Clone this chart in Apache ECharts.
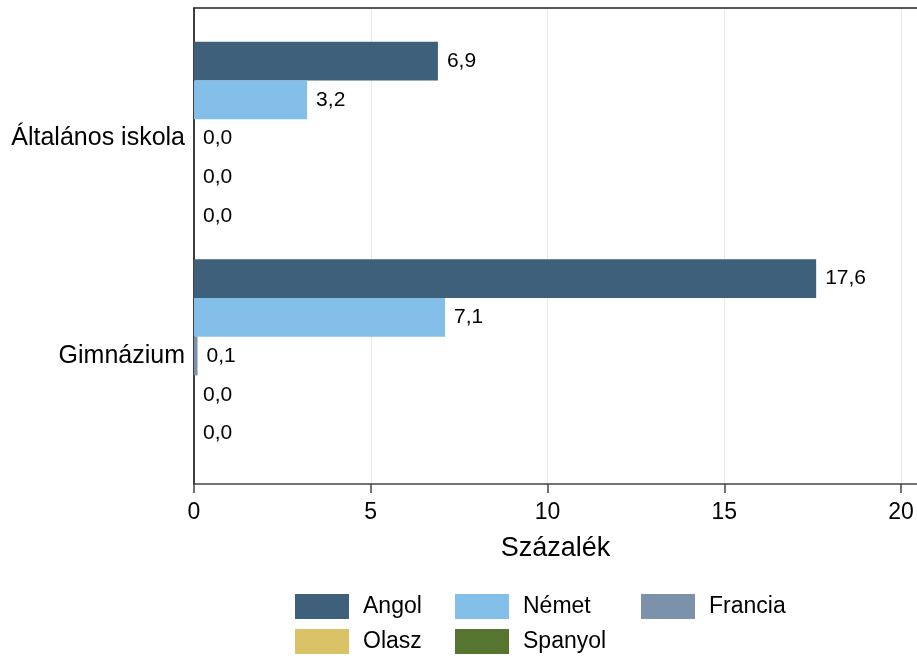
<!DOCTYPE html>
<html>
<head>
<meta charset="utf-8">
<script src="https://cdn.jsdelivr.net/npm/echarts@6/dist/echarts.min.js"></script>
<style>
  html, body { margin: 0; padding: 0; background: #fff; }
  #chart { width: 917px; height: 660px; }
</style>
</head>
<body>
<div id="chart"></div>
<script>
// adatok
var categories = ['Általános iskola', 'Gimnázium'];
var seriesNames = ['Angol', 'Német', 'Francia', 'Olasz', 'Spanyol'];
var angol = [6.9, 17.6];
var nemet = [3.2, 7.1];
var francia = [0.0, 0.1];
var olasz = [0.0, 0.0];
var spanyol = [0.0, 0.0];
var xTicks = [0, 5, 10, 15, 20];
var axisTitle = 'Százalék';

var colors = ['#3e607a', '#83bfe9', '#7b92aa', '#d9c366', '#567530'];
var font = '"Liberation Sans", Arial, sans-serif';

var myChart = echarts.init(document.getElementById('chart'));

function fmt(v) {
    return v.toFixed(1).replace('.', ',');
}

var seriesData = [angol, nemet, francia, olasz, spanyol];
var series = seriesData.map(function (d, i) {
    return {
        name: seriesNames[i],
        type: 'bar',
        xAxisIndex: 3,
        yAxisIndex: 2,
        data: d,
        barGap: '0%',
        barCategoryGap: '11%',
        itemStyle: { color: colors[i] },
        label: {
            show: true,
            position: 'right',
            distance: 9,
            color: '#000',
            fontFamily: font,
            fontSize: 21,
            formatter: function (p) { return fmt(p.value); }
        }
    };
});

// jelmagyarázat: oszloponként igazítva
var legendPos = {
    'Angol': [295, 594], 'Olasz': [295, 629],
    'Német': [455, 594], 'Spanyol': [455, 629],
    'Francia': [641, 594]
};
var legends = seriesNames.map(function (n) {
    return {
        orient: 'vertical',
        left: legendPos[n][0],
        top: legendPos[n][1],
        padding: 0,
        itemWidth: 54,
        itemHeight: 25,
        icon: 'rect',
        data: [n],
        textStyle: { color: '#000', fontFamily: font, fontSize: 23, padding: [0, 0, 0, 9] }
    };
});

var xMax = 20;
var plotW = 707;   // 0..20
var frameW = 729;  // a keret a kép széléig fut

var option = {
    animation: false,
    backgroundColor: '#fff',
    color: colors,
    grid: [
        { left: 194, top: 8, width: plotW, height: 476 },
        { left: 194, top: 8, width: frameW, height: 476 },
        { left: 194, top: 29.7, width: plotW, height: 435.2 }
    ],
    xAxis: [
        {
            gridIndex: 0,
            type: 'value',
            position: 'bottom',
            min: 0,
            max: xMax,
            interval: 5,
            axisLine: { show: false },
            axisTick: { show: true, length: 9, lineStyle: { color: '#444', width: 1.5 } },
            axisLabel: {
                color: '#000',
                fontFamily: font,
                fontSize: 23,
                margin: 17
            },
            splitLine: { show: true, lineStyle: { color: '#e8e8e8', width: 1 } }
        },
        {
            gridIndex: 1,
            type: 'value',
            position: 'bottom',
            min: 0,
            max: 1,
            name: axisTitle,
            nameLocation: 'middle',
            nameGap: 51,
            nameTextStyle: { color: '#000', fontFamily: font, fontSize: 27 },
            axisLine: { show: true, lineStyle: { color: '#444', width: 1.5 } },
            axisTick: { show: false },
            axisLabel: { show: false },
            splitLine: { show: false }
        },
        {
            gridIndex: 1,
            type: 'value',
            position: 'top',
            min: 0,
            max: 1,
            axisLine: { show: true, lineStyle: { color: '#222', width: 1.5 } },
            axisTick: { show: false },
            axisLabel: { show: false },
            splitLine: { show: false }
        },
        {
            gridIndex: 2,
            type: 'value',
            min: 0,
            max: xMax,
            show: false
        }
    ],
    yAxis: [
        {
            gridIndex: 0,
            type: 'value',
            min: 0,
            max: 1,
            show: false
        },
        {
            gridIndex: 1,
            type: 'value',
            min: 0,
            max: 1,
            axisLine: { show: true, lineStyle: { color: '#000', width: 1.5 } },
            axisTick: { show: false },
            axisLabel: { show: false },
            splitLine: { show: false }
        },
        {
            gridIndex: 2,
            type: 'category',
            inverse: true,
            data: categories,
            axisLine: { show: false },
            axisTick: { show: false },
            axisLabel: {
                color: '#000',
                fontFamily: font,
                fontSize: 25,
                margin: 9
            }
        }
    ],
    legend: legends,
    series: series
};

myChart.setOption(option);
</script>
</body>
</html>
